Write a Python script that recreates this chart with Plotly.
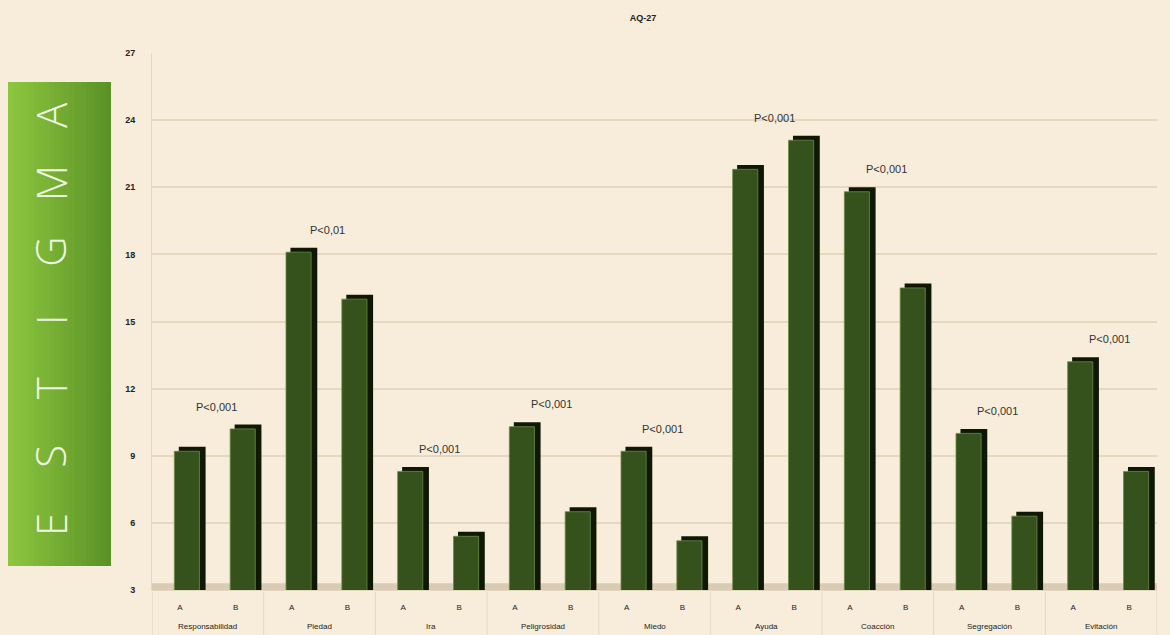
import plotly.graph_objects as go

# ---------------- data ----------------
groups = ["Responsabilidad", "Piedad", "Ira", "Peligrosidad", "Miedo",
          "Ayuda", "Coacción", "Segregación", "Evitación"]
subgroups = ["A", "B"]
values_A = [9.2, 18.1, 8.3, 10.3, 9.2, 21.8, 20.8, 10.0, 13.2]
values_B = [10.2, 16.0, 5.4, 6.5, 5.2, 23.1, 16.5, 6.3, 8.3]
p_labels = ["P<0,001", "P<0,01", "P<0,001", "P<0,001", "P<0,001",
            "P<0,001", "P<0,001", "P<0,001", "P<0,001"]
y_ticks = [3, 6, 9, 12, 15, 18, 21, 24, 27]
chart_title = "AQ-27"
side_label = "ESTIGMA"

# ---------------- style ----------------
W, H = 1170, 635
ML, MR, MT, MB = 152, 13, 53, 45
BG = "#f8eddb"
GRID = "#e6d8bf"
FRONT = "#35521c"
SIDE = "#0e1805"
nsub = len(subgroups)

positions = list(range(len(groups) * nsub))
x_inner = [s for _ in groups for s in subgroups]
y_vals = [v for pair in zip(values_A, values_B) for v in pair]

fig = go.Figure()
# dark side / top faces (pseudo-3D), shifted right and up
fig.add_trace(go.Bar(
    x=positions, y=y_vals, base=0.2,
    offset=-0.02, width=0.48,
    marker=dict(color=SIDE, line=dict(width=0)),
    hoverinfo="skip", showlegend=False))
# front faces
fig.add_trace(go.Bar(
    x=positions, y=y_vals, customdata=x_inner,
    offset=-0.1, width=0.45,
    marker=dict(color=FRONT, line=dict(color="#6d8a48", width=0.8)),
    showlegend=False))

# helpers to convert pixel to paper coords
pw = W - ML - MR
ph = H - MT - MB
def px(xp):
    return (xp - ML) / pw
def py(yp):
    return (H - MB - yp) / ph

# p-value labels
for i, lab in enumerate(p_labels):
    fig.add_annotation(
        x=nsub * i + 0.65, y=max(values_A[i], values_B[i]) + 1.0,
        xref="x", yref="y", text=lab, showarrow=False, xanchor="center",
        font=dict(family="Liberation Sans", size=11, color="#333333"))

# group labels (second level of the category axis)
for i, g in enumerate(groups):
    fig.add_annotation(
        x=nsub * i + (nsub - 1) / 2, y=py(626), xref="x", yref="paper",
        text=g, showarrow=False, xanchor="center", yanchor="middle",
        font=dict(family="Liberation Sans", size=8, color="#222222"))

shapes = []
# group dividers
for i in range(len(groups) + 1):
    shapes.append(dict(type="line", xref="x", yref="paper",
                       x0=nsub * i - 0.5, x1=nsub * i - 0.5,
                       y0=py(592), y1=py(H), line=dict(color=GRID, width=1)))
# floor band
shapes.append(dict(type="rect", xref="paper", yref="y", x0=0, x1=1,
                   y0=3, y1=3.3, fillcolor="#d8ccb6", line=dict(width=0),
                   layer="below"))
# green side box with simulated horizontal gradient
box_x0, box_x1, box_y0, box_y1 = 8, 111, 82, 566
n = 20
c0 = (0x8c, 0xc6, 0x3f)
c1 = (0x5b, 0x92, 0x26)
for k in range(n):
    t = k / (n - 1)
    c = tuple(int(round(c0[j] + (c1[j] - c0[j]) * t)) for j in range(3))
    xa = box_x0 + (box_x1 - box_x0) * k / n
    xb = box_x0 + (box_x1 - box_x0) * (k + 1) / n + 0.6
    shapes.append(dict(type="rect", xref="paper", yref="paper",
                       x0=px(xa), x1=px(min(xb, box_x1)), y0=py(box_y1), y1=py(box_y0),
                       fillcolor="rgb(%d,%d,%d)" % c, line=dict(width=0),
                       layer="above"))

letters = list(side_label)
for k, ch in enumerate(letters):
    ycen = 525 - k * (525 - 115) / (len(letters) - 1)
    fig.add_annotation(x=px(50), y=py(ycen), xref="paper", yref="paper",
                       text=ch, showarrow=False, textangle=-90,
                       xanchor="center", yanchor="middle",
                       font=dict(family="Open Sans", size=42, color="#eef7e2",
                                 weight=300))

fig.update_layout(
    width=W, height=H,
    margin=dict(l=ML, r=MR, t=MT, b=MB),
    paper_bgcolor=BG, plot_bgcolor=BG,
    barmode="overlay",
    title=dict(text="<b>" + chart_title + "</b>", x=643 / W, y=1 - 18 / H,
               xref="container", yref="container", xanchor="center",
               yanchor="middle",
               font=dict(family="Liberation Sans", size=9, color="#222222")),
    shapes=shapes,
    xaxis=dict(range=[-0.5, len(positions) - 0.5], tickvals=positions,
               ticktext=x_inner, showgrid=False, zeroline=False,
               showline=True, linecolor=GRID, linewidth=1,
               ticks="outside", ticklen=9, tickcolor="rgba(0,0,0,0)",
               tickfont=dict(family="Liberation Sans", size=8, color="#222222")),
    yaxis=dict(range=[3, 27], tickvals=y_ticks, showgrid=True,
               gridcolor=GRID, gridwidth=1.5, zeroline=False,
               showline=True, linecolor=GRID, linewidth=1,
               ticks="outside", ticklen=14, tickcolor=BG,
               tickfont=dict(family="Liberation Sans", size=9, color="#222222",
                             weight="bold")),
)

fig.write_html("out.html", config={"displayModeBar": False},
               post_script="document.body.style.margin='0';document.body.style.overflow='hidden';")
